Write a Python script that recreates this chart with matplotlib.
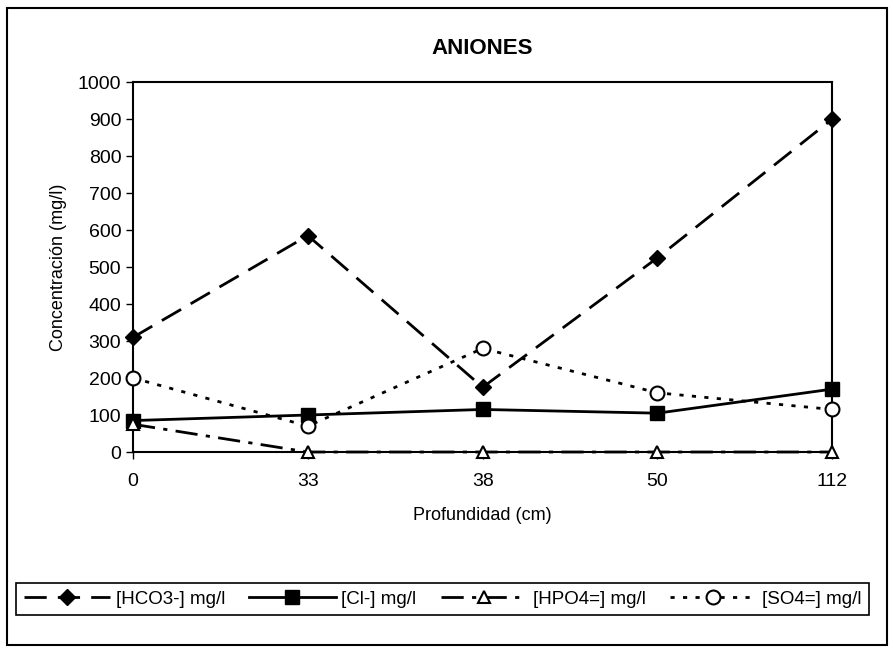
import matplotlib.pyplot as plt
from matplotlib.patches import Rectangle

plt.rcParams['font.family'] = ['Liberation Sans', 'DejaVu Sans']

# depths (categories) and concentrations (mg/l)
depths = ['0', '33', '38', '50', '112']
hco3 = [310, 585, 175, 525, 900]
cl = [85, 100, 115, 105, 170]
hpo4 = [75, 0, 0, 0, 0]
so4 = [200, 70, 280, 160, 115]

fig = plt.figure(figsize=(8.93, 6.5), dpi=100)
ax = fig.add_axes([0.149, 0.3046, 0.783, 0.5692])

xs = range(len(depths))
ax.plot(xs, hco3, color='black', lw=2, ls=(0, (8, 4)), marker='D', ms=8,
        mfc='black', mec='black', label='[HCO3-] mg/l', clip_on=False, zorder=3)
ax.plot(xs, cl, color='black', lw=2, ls='-', marker='s', ms=10,
        mfc='black', mec='black', label='[Cl-] mg/l', clip_on=False, zorder=3)
ax.plot(xs, hpo4, color='black', lw=2, ls=(0, (8, 3, 1.5, 3)), marker='^', ms=9,
        mfc='white', mec='black', mew=1.5, label='[HPO4=] mg/l', clip_on=False, zorder=3)
ax.plot(xs, so4, color='black', lw=2, ls=(0, (1.5, 3)), marker='o', ms=10,
        mfc='white', mec='black', mew=1.5, label='[SO4=] mg/l', clip_on=False, zorder=3)

ax.set_xlim(0, len(depths) - 1)
ax.set_ylim(0, 1000)
ax.set_yticks(range(0, 1001, 100))
ax.set_xticks(list(xs))
ax.set_xticklabels(depths)
ax.tick_params(labelsize=14, direction='out', length=5, width=1)
ax.tick_params(axis='x', pad=10)
for s in ax.spines.values():
    s.set_linewidth(1.5)

ax.set_title('ANIONES', fontsize=16, fontweight='bold', pad=20)
ax.set_xlabel('Profundidad (cm)', fontsize=13, labelpad=12)
ax.set_ylabel('Concentración (mg/l)', fontsize=13, labelpad=8)

fig.legend(loc='center', bbox_to_anchor=(0.4955, 0.0785), ncol=4, fontsize=13.5,
           frameon=True, fancybox=False, edgecolor='black', framealpha=1,
           handlelength=4.6, handletextpad=0.3, columnspacing=1.3, borderpad=0.4)
leg = fig.legends[0]
leg.get_frame().set_linewidth(1.2)

fig.patches.append(Rectangle((0.008, 0.008), 0.985, 0.98, transform=fig.transFigure,
                             fill=False, edgecolor='black', lw=1.5))

fig.savefig('out.png', dpi=100)
